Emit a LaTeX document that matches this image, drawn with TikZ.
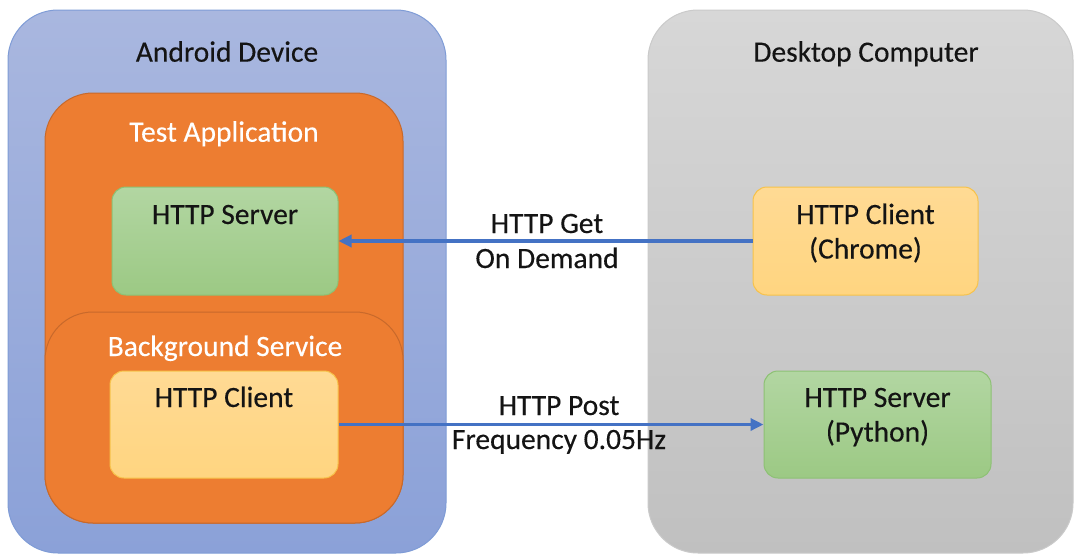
\documentclass[tikz,border=0pt]{standalone}
\usepackage{fontspec}
\setmainfont{Carlito}[FakeBold=0.3]
\usetikzlibrary{arrows.meta}
\definecolor{devtop}{HTML}{A9B7DF}
\definecolor{devbot}{HTML}{8BA1D8}
\definecolor{devline}{HTML}{7F9CD6}
\definecolor{appfill}{HTML}{ED7D31}
\definecolor{appline}{HTML}{C8692B}
\definecolor{srvtop}{HTML}{B2D6A2}
\definecolor{srvbot}{HTML}{9CC984}
\definecolor{srvline}{HTML}{8DC174}
\definecolor{clitop}{HTML}{FFDA94}
\definecolor{clibot}{HTML}{FFD580}
\definecolor{cliline}{HTML}{F7C24A}
\definecolor{pctop}{HTML}{D7D7D7}
\definecolor{pcbot}{HTML}{C0C0C0}
\definecolor{pcline}{HTML}{CACACA}
\definecolor{link}{HTML}{4472C4}
\definecolor{ink}{HTML}{141414}
\tikzset{
  box/.style={rectangle, inner sep=0pt, line width=1pt},
  device/.style={box, rounded corners=50pt, top color=devtop, bottom color=devbot, draw=devline},
  desktop/.style={box, rounded corners=50pt, top color=pctop, bottom color=pcbot, draw=pcline},
  app/.style={box, rounded corners=48pt, fill=appfill, draw=appline},
  server/.style={box, rounded corners=14pt, top color=srvtop, bottom color=srvbot, draw=srvline},
  client/.style={box, rounded corners=14pt, top color=clitop, bottom color=clibot, draw=cliline},
  txt/.style={font=\fontsize{29.5}{34.5}\selectfont, text=ink, align=center, inner sep=0pt, anchor=base},
  wtxt/.style={txt, text=white},
  flow/.style={draw=link, line width=3.5pt, -{Triangle[length=13pt,width=12pt]}}
}
\begin{document}
\begin{tikzpicture}[x=1pt,y=-1pt]
\useasboundingbox (0,0) rectangle (1076,555);
\fill[white] (0,0) rectangle (1076,555);

% Android side
\node[device, minimum width=438pt, minimum height=543pt] (android) at (227,281.5) {};
\node[app, minimum width=358pt, minimum height=430pt] (testapp) at (224,308) {};
\node[app, minimum width=358pt, minimum height=211pt] (bgsvc) at (224,417.5) {};
\node[server, minimum width=226pt, minimum height=108pt] (asrv) at (225,241) {};
\node[client, minimum width=228pt, minimum height=107pt] (acli) at (224,424.5) {};

\node[txt] (androidlbl) at (227,61.7) {Android Device};
\node[wtxt] (testapplbl) at (224,141.7) {Test Application};
\node[wtxt] (bgsvclbl) at (225,356) {Background Service};
\node[txt] (asrvlbl) at (225,224) {HTTP Server};
\node[txt] (aclilbl) at (224,407) {HTTP Client};

% Desktop side (two-line labels: base anchor sits on the last line)
\node[desktop, minimum width=425pt, minimum height=543pt] (desk) at (860.5,281.5) {};
\node[client, minimum width=225pt, minimum height=108pt] (chrome) at (865.5,241) {};
\node[server, minimum width=227pt, minimum height=107pt] (pysrv) at (877.5,424.5) {};

\node[txt] (desklbl) at (866,61.7) {Desktop Computer};
\node[txt] (chromelbl) at (865.5,258.5) {HTTP Client\\(Chrome)};
\node[txt] (pysrvlbl) at (877.5,441.5) {HTTP Server\\(Python)};

% Requests
\draw[flow] (chrome.west) -- (asrv.east);
\draw[flow] (acli.east) -- (pysrv.west);
\node[txt] (getlbl) at (547,233) {HTTP Get};
\node[txt] (demandlbl) at (547,268) {On Demand};
\node[txt] (postlbl) at (559,415) {HTTP Post};
\node[txt] (freqlbl) at (559,449) {Frequency 0.05Hz};
\end{tikzpicture}
\end{document}
